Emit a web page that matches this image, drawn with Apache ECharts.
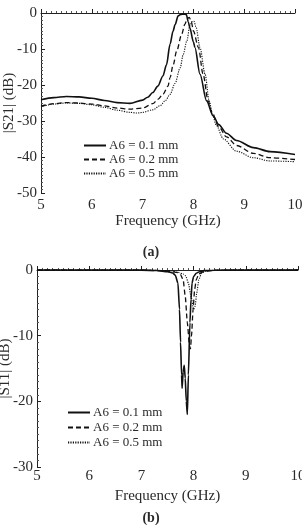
<!DOCTYPE html>
<html><head><meta charset="utf-8">
<script src="https://cdn.jsdelivr.net/npm/echarts@6/dist/echarts.min.js"></script>
<style>html,body{margin:0;padding:0;background:#fff}#c{width:302px;height:525px}</style>
</head><body><div id="c"></div>
<script>
const legendNames = ['A6 = 0.1 mm', 'A6 = 0.2 mm', 'A6 = 0.5 mm'];
const xTicks = [5, 6, 7, 8, 9, 10];

// (a) |S21| (dB)
const s21Freq1 = [5.0, 5.25, 5.5, 5.75, 6.0, 6.25, 6.5, 6.75, 7.0, 7.1, 7.2, 7.3, 7.4, 7.47, 7.54, 7.6, 7.64, 7.7, 7.75, 7.8, 7.86, 7.9, 7.93, 8.0, 8.03, 8.13, 8.26, 8.39, 8.5, 8.65, 8.85, 9.18, 9.51, 10.0];
const s21Val1  = [-24.1, -23.5, -23.2, -23.3, -23.7, -24.3, -24.9, -25.1, -24.2, -23.4, -22.1, -20.3, -17.5, -14.4, -8.7, -5.0, -3.2, -0.8, -0.4, -0.3, -0.4, -2.5, -4.1, -8.0, -9.6, -17.0, -24.4, -28.6, -31.0, -33.4, -35.4, -37.4, -38.5, -39.3];

const s21Freq2 = [5.0, 5.25, 5.5, 5.75, 6.0, 6.25, 6.5, 6.75, 7.0, 7.2, 7.3, 7.4, 7.5, 7.54, 7.6, 7.67, 7.77, 7.83, 7.88, 7.92, 7.96, 8.0, 8.1, 8.19, 8.29, 8.36, 8.5, 8.65, 8.85, 9.18, 9.51, 10.0];
const s21Val2  = [-25.9, -25.2, -24.9, -25.0, -25.3, -25.8, -26.4, -26.7, -26.4, -25.2, -24.0, -22.6, -20.3, -18.0, -14.5, -10.6, -5.9, -3.2, -1.5, -1.2, -2.5, -5.0, -9.6, -17.0, -24.4, -27.4, -31.6, -34.4, -36.8, -39.0, -40.2, -40.7];

const s21Freq3 = [5.0, 5.25, 5.5, 5.75, 6.0, 6.25, 6.5, 6.75, 6.9, 7.0, 7.2, 7.35, 7.45, 7.54, 7.64, 7.74, 7.8, 7.87, 7.93, 7.97, 8.01, 8.05, 8.13, 8.23, 8.31, 8.38, 8.45, 8.59, 8.85, 9.18, 9.51, 10.0];
const s21Val3  = [-26.1, -25.3, -25.0, -25.1, -25.5, -26.2, -27.0, -27.6, -27.8, -27.6, -26.9, -25.7, -24.3, -22.6, -19.5, -15.2, -11.5, -7.8, -3.6, -2.4, -2.3, -3.8, -9.6, -17.0, -24.4, -28.4, -31.2, -35.0, -38.4, -40.2, -41.1, -41.3];

// (b) |S11| (dB)
const s11Freq1 = [5, 6, 7, 7.3, 7.5, 7.6, 7.65, 7.7, 7.73, 7.75, 7.77, 7.78, 7.8, 7.82, 7.84, 7.86, 7.88, 7.9, 7.93, 7.95, 7.97, 8.0, 8.05, 8.1, 8.2, 8.4, 9, 10];
const s11Val1  = [0, 0, -0.02, -0.08, -0.25, -0.45, -0.8, -2, -6, -11, -16, -18, -15.5, -14.5, -16.5, -20, -22, -16, -8, -4.5, -2, -1, -0.5, -0.3, -0.1, -0.03, 0, 0];

const s11Freq2 = [5, 7, 7.5, 7.7, 7.75, 7.8, 7.84, 7.88, 7.92, 7.94, 7.96, 7.99, 8.02, 8.05, 8.1, 8.2, 8.4, 10];
const s11Val2  = [0, -0.02, -0.15, -0.4, -0.7, -1.5, -4, -8, -11.5, -12, -10, -6, -3, -1.5, -0.6, -0.2, -0.05, 0];

const s11Freq3 = [5, 7, 7.5, 7.6, 7.7, 7.8, 7.85, 7.9, 7.95, 8.0, 8.03, 8.06, 8.1, 8.15, 8.25, 8.5, 10];
const s11Val3  = [0, -0.02, -0.08, -0.15, -0.35, -0.6, -0.9, -2, -4, -6, -5.5, -3.5, -1.5, -0.5, -0.1, -0.02, 0];

const zip = (xs, ys) => xs.map((x, i) => [x, ys[i]]);
const FONT = '"Liberation Serif", "DejaVu Serif", serif';
const TXT = '#2a2a2a';

const styles = [
  { type: 'solid', width: 1.6 },
  { type: [5, 3], width: 1.3 },
  { type: [1.2, 1.2], width: 1.1 }
];

function xAxis(gi, gap) {
  return {
    type: 'value', gridIndex: gi, min: 5, max: 10, interval: 1,
    name: 'Frequency (GHz)', nameLocation: 'middle', nameGap: gap, nameMoveOverlap: false,
    nameTextStyle: { fontFamily: FONT, fontSize: 15, color: TXT },
    axisLine: { show: true, lineStyle: { color: '#222', width: 1 } },
    axisTick: { show: true, inside: true, length: 4, lineStyle: { color: '#222' } },
    minorTick: { show: true, splitNumber: 10, length: 2, lineStyle: { color: '#555' } },
    axisLabel: { fontFamily: FONT, fontSize: 15, color: TXT, margin: gi === 0 ? 5 : 2, hideOverlap: false },
    splitLine: { show: false }
  };
}
function yAxis(gi, min, name, gap) {
  return {
    type: 'value', gridIndex: gi, min: min, max: 0, interval: 10,
    name: name, nameLocation: 'middle', nameGap: gap, nameRotate: 90, nameMoveOverlap: false,
    nameTextStyle: { fontFamily: FONT, fontSize: 15, color: TXT },
    axisLine: { show: true, onZero: false, lineStyle: { color: '#222', width: 1 } },
    axisTick: { show: true, inside: true, length: 4, lineStyle: { color: '#222' } },
    minorTick: { show: true, splitNumber: 10, length: 2, lineStyle: { color: '#555' } },
    axisLabel: { fontFamily: FONT, fontSize: 15, color: TXT, margin: 4 },
    splitLine: { show: false }
  };
}

const s21Data = [zip(s21Freq1, s21Val1), zip(s21Freq2, s21Val2), zip(s21Freq3, s21Val3)];
const s11Data = [zip(s11Freq1, s11Val1), zip(s11Freq2, s11Val2), zip(s11Freq3, s11Val3)];

const series = [];
s21Data.forEach((d, i) => series.push({
  type: 'line', name: legendNames[i], xAxisIndex: 0, yAxisIndex: 0, data: d,
  showSymbol: false, symbol: 'none', smooth: 0.3, smoothMonotone: 'x',
  lineStyle: { color: '#111', type: styles[i].type, width: styles[i].width },
  itemStyle: { color: '#111' }
}));
s11Data.forEach((d, i) => series.push({
  type: 'line', name: legendNames[i] + ' ', xAxisIndex: 1, yAxisIndex: 1, data: d,
  showSymbol: false, symbol: 'none', smooth: 0.2, smoothMonotone: 'x', clip: false,
  lineStyle: { color: '#111', type: styles[i].type, width: styles[i].width },
  itemStyle: { color: '#111' }
}));

function legend(names, left, top, gap) {
  return {
    data: names,
    orient: 'vertical', left: left, top: top, padding: 0, itemGap: gap,
    itemWidth: 22, itemHeight: 10, selectedMode: false,
    itemStyle: { opacity: 0 },
    textStyle: { fontFamily: FONT, fontSize: 13, color: TXT, padding: [0, 0, 0, -2], lineHeight: 13 }
  };
}

const chart = echarts.init(document.getElementById('c'), null, { renderer: 'canvas' });
chart.setOption({
  animation: false,
  backgroundColor: '#fff',
  grid: [
    { left: 41, top: 13, width: 254, height: 180, containLabel: false, outerBoundsMode: 'none' },
    { left: 37, top: 270, width: 261, height: 197, containLabel: false, outerBoundsMode: 'none' }
  ],
  xAxis: [xAxis(0, 21), xAxis(1, 22)],
  yAxis: [yAxis(0, -50, '|S21| (dB)', 24), yAxis(1, -30, '|S11| (dB)', 24)],
  legend: [
    legend(legendNames, 83, 139, 1),
    legend(legendNames.map(n => n + ' '), 67, 406, 2)
  ],
  series: series,
  graphic: [
    { type: 'text', left: 'center', top: 245, style: { text: '(a)', fontFamily: FONT, fontSize: 14, fontWeight: 'bold', fill: TXT } },
    { type: 'text', left: 'center', top: 511, style: { text: '(b)', fontFamily: FONT, fontSize: 14, fontWeight: 'bold', fill: TXT } }
  ]
});
</script></body></html>
